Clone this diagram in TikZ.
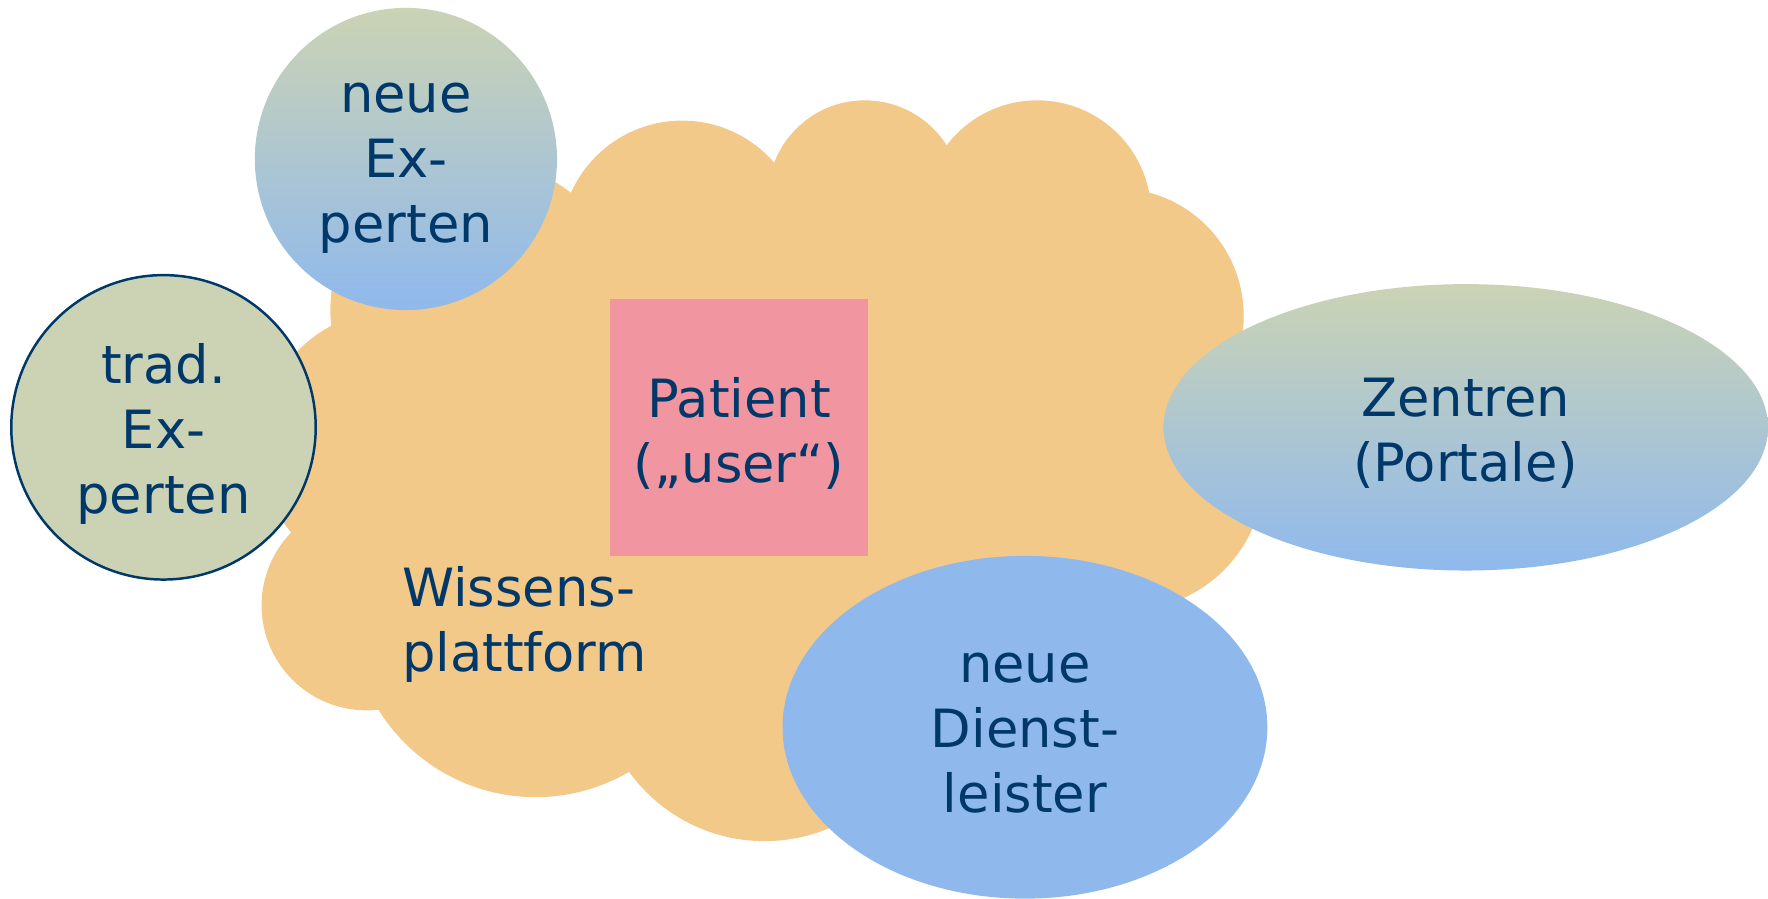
\documentclass[tikz,border=0pt]{standalone}
\usepackage{fontspec}
\setmainfont{DejaVu Sans}
\usetikzlibrary{shapes.geometric}
\definecolor{cloudorange}{RGB}{243,201,138}
\definecolor{patientpink}{RGB}{241,150,160}
\definecolor{skyblue}{RGB}{143,185,237}
\definecolor{sage}{RGB}{203,211,180}
\definecolor{navy}{RGB}{0,56,106}
\tikzset{
  lbl/.style={text=navy, align=center, font=\fontsize{13.3}{16.4}\selectfont},
  txt/.style={label={[lbl, inner sep=0pt, yshift=-0.5mm]center:{#1}}},
  bump/.style={fill=cloudorange, draw=none},
  roundbox/.style={circle, inner sep=0pt, outer sep=0pt, minimum size=#1},
  ovalbox/.style={ellipse, inner sep=0pt, outer sep=0pt},
  fade/.style={top color=sage, bottom color=skyblue, draw=none},
}
\begin{document}
\begin{tikzpicture}[x=0.1mm, y=-0.1mm]
\useasboundingbox (0,0) rectangle (1568,797);

% the knowledge platform cloud: a union of round bumps over a filled core
\fill[cloudorange] (425,275) -- (605,215) -- (767,175) -- (920,190) -- (990,280)
  -- (1000,420) -- (900,520) -- (678,598) -- (475,543) -- (325,537) -- (350,395) -- cycle;
\fill[bump] (605,215) circle [radius=108];
\fill[bump] (767,175) circle [radius=86];
\fill[bump] (920,190) circle [radius=101];
\fill[bump] (990,280) circle [radius=113];
\fill[bump] (1000,420) circle [radius=121];
\fill[bump] (425,275) circle [radius=132];
\fill[bump] (350,395) circle [radius=120];
\fill[bump] (325,537) circle [radius=93];
\fill[bump] (475,543) circle [radius=164];
\fill[bump] (678,598) circle [radius=148];
\node[lbl, align=left, anchor=west, inner sep=0pt] (wissen) at (356,554) {Wissens-\\plattform};

% the patient in the middle
\node[rectangle, fill=patientpink, inner sep=0pt, outer sep=0pt,
      minimum width=22.9mm, minimum height=22.8mm,
      txt={Patient\\(„user“)}] (patient) at (655.5,379) {};

% actors around the platform
\node[ovalbox, fade, minimum width=53.6mm, minimum height=25.4mm,
      txt={Zentren\\(Portale)}] (zentren) at (1300,379) {};
\node[ovalbox, fill=skyblue, minimum width=43mm, minimum height=30.4mm,
      txt={neue\\Dienst-\\leister}] (dienst) at (909,645) {};
\node[roundbox=26.8mm, fade,
      label={[lbl, inner sep=0pt, yshift=-0.8mm]center:{neue\\Ex-\\perten}}] (neueexp) at (360,141) {};
\node[roundbox=27mm, fill=sage, draw=navy, line width=0.22mm,
      label={[lbl, inner sep=0pt, yshift=-0.6mm]center:{trad.\\Ex-\\perten}}] (tradexp) at (145,379) {};
\end{tikzpicture}
\end{document}
